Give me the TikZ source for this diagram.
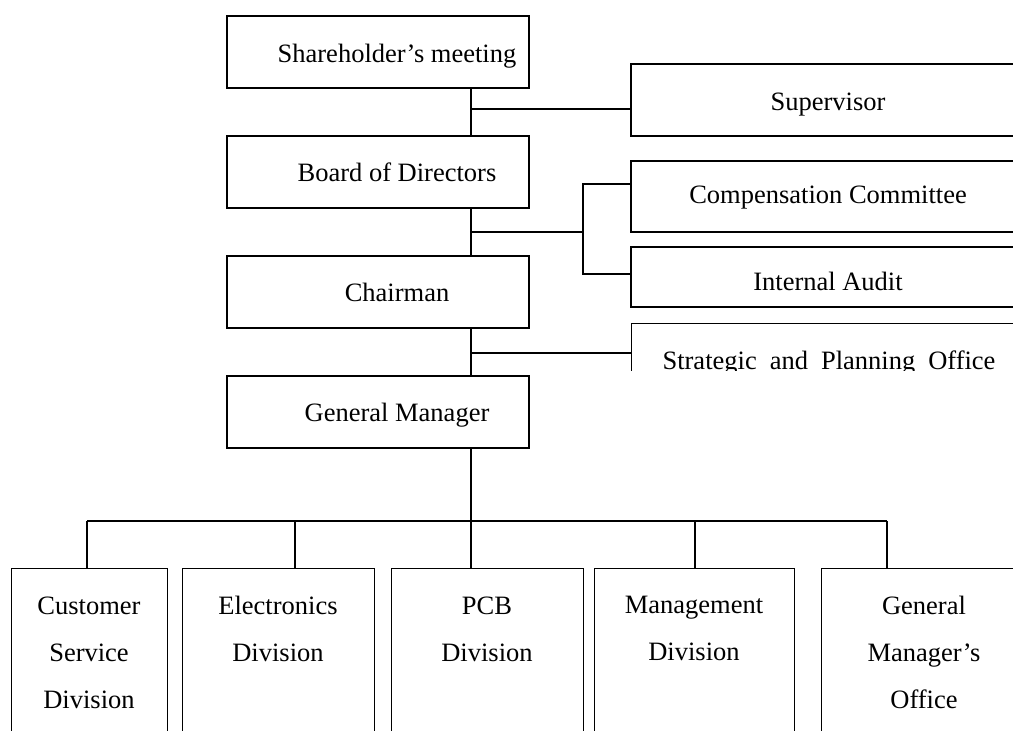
\documentclass[tikz,border=0pt]{standalone}
\usepackage{fontspec}
\setmainfont{Liberation Serif}
\begin{document}
\begin{tikzpicture}[x=1pt,y=-1pt, line width=1.1pt,
  box/.style={draw, rectangle, inner sep=0pt},
  lbl/.style={inner sep=0pt, align=center, anchor=north, font=\fontsize{26.5}{47}\selectfont},
  txt/.style={inner sep=0pt, anchor=base, font=\fontsize{26.5}{47}\selectfont}]
\useasboundingbox (0,0) rectangle (1013,731);
\clip (0,0) rectangle (1013,731);

% main column
\node[box, minimum width=302pt, minimum height=72pt] (sh) at (378,52) {};
\node[box, minimum width=302pt, minimum height=72pt] (bd) at (378,172) {};
\node[box, minimum width=302pt, minimum height=72pt] (ch) at (378,292) {};
\node[box, minimum width=302pt, minimum height=72pt] (gm) at (378,412) {};
\node[txt] (sht) at (397,62) {Shareholder’s meeting};
\node[txt] (bdt) at (397,181) {Board of Directors};
\node[txt] (cht) at (397,301) {Chairman};
\node[txt] (gmt) at (397,421) {General Manager};

% right column
\node[box, minimum width=396pt, minimum height=72pt] (sup) at (829,100) {};
\node[box, minimum width=396pt, minimum height=71pt] (comp) at (829,196.5) {};
\node[box, minimum width=396pt, minimum height=60pt] (aud) at (829,277) {};
\node[txt] (supt) at (828,110) {Supervisor};
\node[txt] (compt) at (828,203) {Compensation Committee};
\node[txt] (audt) at (828,290) {Internal Audit};
\begin{scope}
  \clip (600,300) rectangle (1013,370);
  \node[box, anchor=north west, minimum width=396pt, minimum height=100pt] (st) at (631,323) {};
  \node[txt] (stt) at (829,369) {Strategic\hspace{13pt}and\hspace{13pt}Planning\hspace{13pt}Office};
\end{scope}

% bottom row
\node[box, anchor=north west, minimum width=156pt, minimum height=200pt] (b1) at (11,568) {};
\node[box, anchor=north west, minimum width=192pt, minimum height=200pt] (b2) at (182,568) {};
\node[box, anchor=north west, minimum width=192pt, minimum height=200pt] (b3) at (391,568) {};
\node[box, anchor=north west, minimum width=200pt, minimum height=200pt] (b4) at (594,568) {};
\node[box, anchor=north west, minimum width=206pt, minimum height=200pt] (b5) at (821,568) {};
\node[lbl] (t1) at (89,596) {Customer\\Service\\Division};
\node[lbl] (t2) at (278,596) {Electronics\\Division};
\node[lbl] (t3) at (487,596) {PCB\\Division};
\node[lbl] (t4) at (694,596) {Management\\Division};
\node[lbl] (t5) at (924,596) {General\\Manager’s\\Office};

% spine
\coordinate (spine) at (471,0);
\draw (sh.south -| spine) -- (bd.north -| spine);
\draw (bd.south -| spine) -- (ch.north -| spine);
\draw (ch.south -| spine) -- (gm.north -| spine);

% side branches
\coordinate (j1) at (471,109);
\draw (j1) -- (j1 -| sup.west);
\coordinate (j2) at (471,232);
\coordinate (br) at (583,232);
\draw (j2) -- (br);
\coordinate (bt) at (583,184);
\coordinate (bb) at (583,274);
\draw (bt -| comp.west) -- (bt) -- (bb) -- (bb -| aud.west);
\coordinate (j3) at (471,353);
\draw (j3) -- (j3 -| st.west);

% bus
\coordinate (busM) at (471,521);
\coordinate (busL) at (87,521);
\coordinate (busR) at (887,521);
\coordinate (d2) at (295,521);
\coordinate (d4) at (695,521);
\draw (gm.south -| spine) -- (busM);
\draw (busL) -- (busR);
\draw (busL) -- (busL |- b1.north);
\draw (d2) -- (d2 |- b2.north);
\draw (busM) -- (busM |- b3.north);
\draw (d4) -- (d4 |- b4.north);
\draw (busR) -- (busR |- b5.north);
\end{tikzpicture}
\end{document}
